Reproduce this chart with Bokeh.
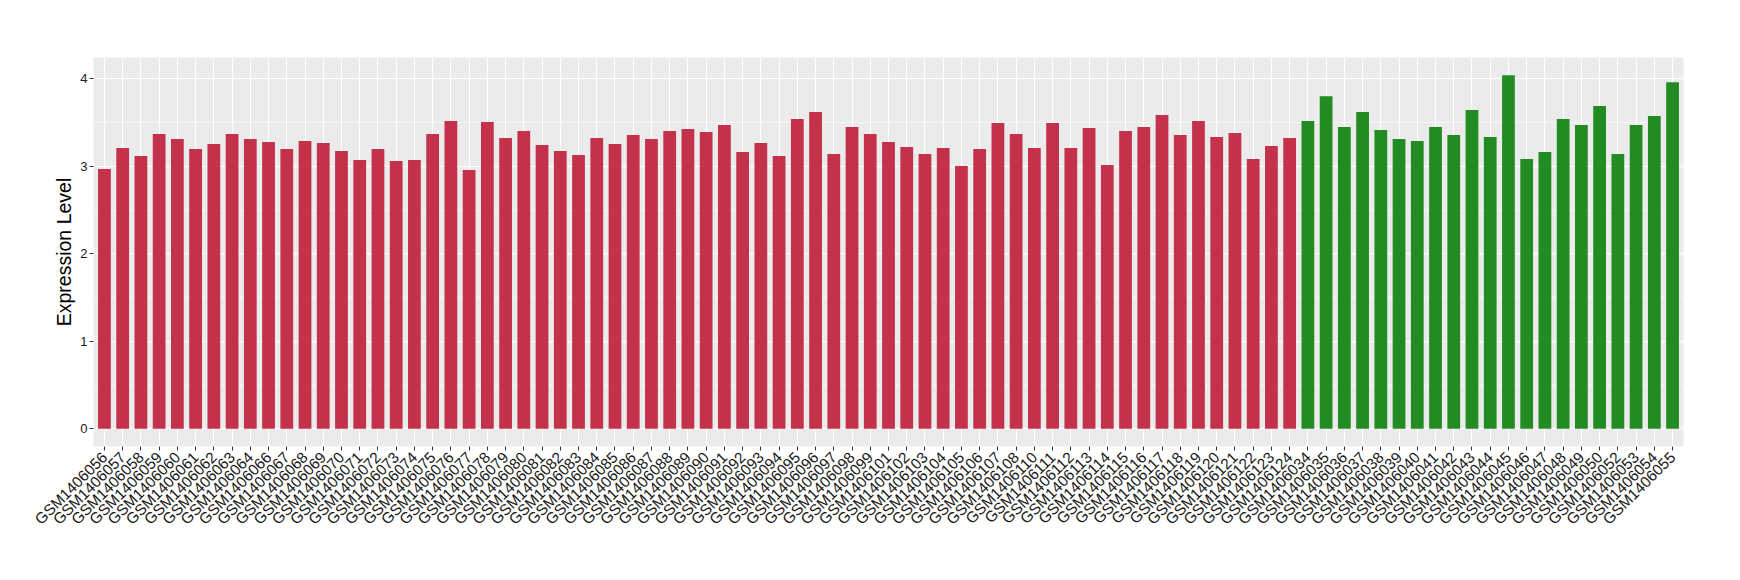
import math
from bokeh.plotting import figure
from bokeh.models import FactorRange, Range1d, SingleIntervalTicker, ColumnDataSource
from bokeh.embed import file_html
from bokeh.resources import INLINE

red_samples = ["GSM1406056", "GSM1406057", "GSM1406058", "GSM1406059", "GSM1406060",
               "GSM1406061", "GSM1406062", "GSM1406063", "GSM1406064", "GSM1406066",
               "GSM1406067", "GSM1406068", "GSM1406069", "GSM1406070", "GSM1406071",
               "GSM1406072", "GSM1406073", "GSM1406074", "GSM1406075", "GSM1406076",
               "GSM1406077", "GSM1406078", "GSM1406079", "GSM1406080", "GSM1406081",
               "GSM1406082", "GSM1406083", "GSM1406084", "GSM1406085", "GSM1406086",
               "GSM1406087", "GSM1406088", "GSM1406089", "GSM1406090", "GSM1406091",
               "GSM1406092", "GSM1406093", "GSM1406094", "GSM1406095", "GSM1406096",
               "GSM1406097", "GSM1406098", "GSM1406099", "GSM1406101", "GSM1406102",
               "GSM1406103", "GSM1406104", "GSM1406105", "GSM1406106", "GSM1406107",
               "GSM1406108", "GSM1406110", "GSM1406111", "GSM1406112", "GSM1406113",
               "GSM1406114", "GSM1406115", "GSM1406116", "GSM1406117", "GSM1406118",
               "GSM1406119", "GSM1406120", "GSM1406121", "GSM1406122", "GSM1406123",
               "GSM1406124"]
red_values = [2.971, 3.210, 3.119, 3.369, 3.312, 3.198, 3.255, 3.369, 3.312, 3.278,
              3.198, 3.290, 3.267, 3.176, 3.073, 3.198, 3.062, 3.073, 3.369, 3.518,
              2.959, 3.506, 3.324, 3.404, 3.244, 3.176, 3.130, 3.324, 3.255, 3.358,
              3.312, 3.404, 3.426, 3.392, 3.472, 3.164, 3.267, 3.119, 3.540, 3.620,
              3.142, 3.449, 3.369, 3.278, 3.221, 3.142, 3.210, 3.005, 3.198, 3.495,
              3.369, 3.210, 3.495, 3.210, 3.438, 3.016, 3.404, 3.449, 3.586, 3.358,
              3.518, 3.335, 3.381, 3.084, 3.233, 3.324]

green_samples = ["GSM1406034", "GSM1406035", "GSM1406036", "GSM1406037", "GSM1406038",
                 "GSM1406039", "GSM1406040", "GSM1406041", "GSM1406042", "GSM1406043",
                 "GSM1406044", "GSM1406045", "GSM1406046", "GSM1406047", "GSM1406048",
                 "GSM1406049", "GSM1406050", "GSM1406052", "GSM1406053", "GSM1406054",
                 "GSM1406055"]
green_values = [3.518, 3.802, 3.449, 3.620, 3.415, 3.312, 3.290, 3.449, 3.358, 3.643,
                3.335, 4.042, 3.084, 3.164, 3.540, 3.472, 3.689, 3.142, 3.472, 3.575,
                3.962]

RED = "#C3314A"
GREEN = "#228B22"

factors = red_samples + green_samples
all_vals = red_values + green_values
ymax = max(all_vals)
pad = 0.05 * ymax

p = figure(
    x_range=FactorRange(factors=factors, range_padding=0.1, range_padding_units="absolute"),
    y_range=Range1d(-pad, ymax + pad),
    frame_width=1590, frame_height=389,
    min_border_left=93, min_border_right=41, min_border_top=57, min_border_bottom=118,
    output_backend="svg", toolbar_location=None,
    background_fill_color="#EBEBEB", border_fill_color="white",
)
p.outline_line_color = None

src_r = ColumnDataSource(dict(x=red_samples, top=red_values))
src_g = ColumnDataSource(dict(x=green_samples, top=green_values))
p.vbar(x="x", top="top", bottom=0, width=0.7, source=src_r, fill_color=RED, line_color=None)
p.vbar(x="x", top="top", bottom=0, width=0.7, source=src_g, fill_color=GREEN, line_color=None)

# grids
p.xgrid.grid_line_color = "white"
p.xgrid.grid_line_width = 1.1
p.ygrid.ticker = SingleIntervalTicker(interval=1, num_minor_ticks=2)
p.ygrid.grid_line_color = "white"
p.ygrid.grid_line_width = 1.1
p.ygrid.minor_grid_line_color = "white"
p.ygrid.minor_grid_line_width = 0.55

# y axis
p.yaxis.ticker = SingleIntervalTicker(interval=1, num_minor_ticks=0)
p.yaxis.axis_label = "Expression Level"
p.yaxis.axis_label_text_font = "Liberation Sans"
p.yaxis.axis_label_text_font_size = "19.5px"
p.yaxis.axis_label_text_font_style = "normal"
p.yaxis.axis_label_text_color = "black"
p.yaxis.axis_label_standoff = 2
p.yaxis.major_label_text_font = "Liberation Sans"
p.yaxis.major_label_text_font_size = "13px"
p.yaxis.major_label_text_color = "#1a1a1a"
p.yaxis.major_label_standoff = 2
p.yaxis.minor_tick_line_color = None

for ax in (p.xaxis, p.yaxis):
    ax.axis_line_color = None
    ax.major_tick_line_color = "#333333"
    ax.major_tick_in = 0
    ax.major_tick_out = 4

# x axis
p.xaxis.major_label_orientation = math.pi / 4
p.xaxis.major_label_text_font = "Liberation Sans"
p.xaxis.major_label_text_font_size = "15.4px"
p.xaxis.major_label_text_color = "#1a1a1a"
p.xaxis.major_label_standoff = 4

open("out.html", "w").write(file_html(p, INLINE))
